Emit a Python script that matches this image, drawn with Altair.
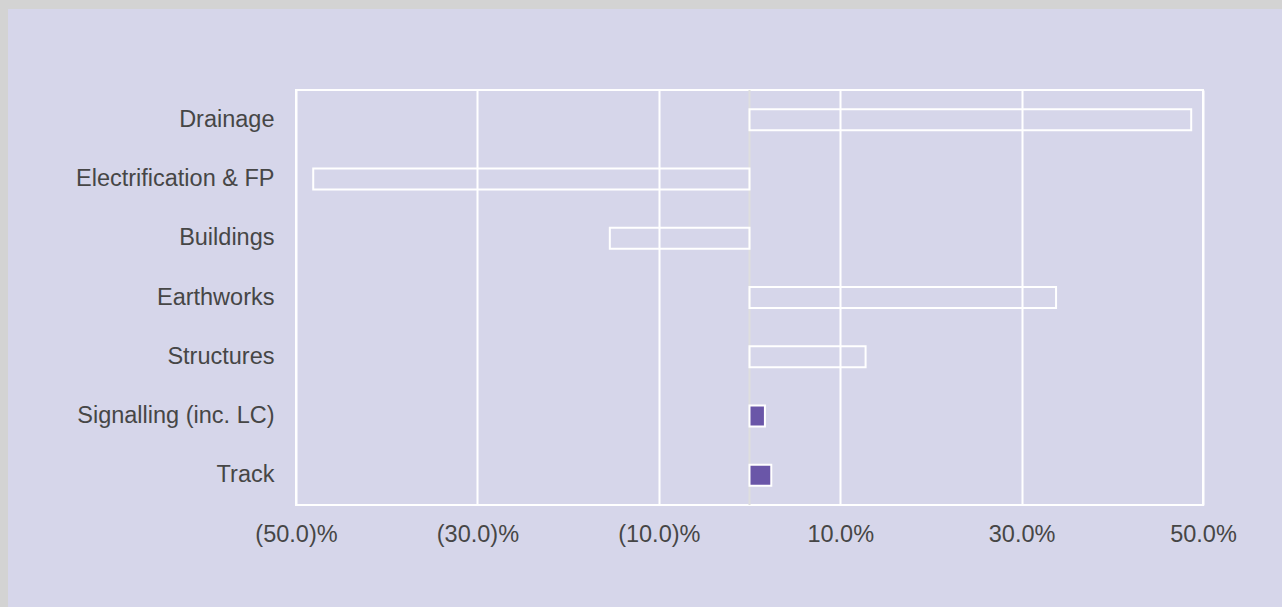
import altair as alt
import pandas as pd

categories = ["Drainage", "Electrification & FP", "Buildings", "Earthworks",
              "Structures", "Signalling (inc. LC)", "Track"]
variance_pct = [48.7, -48.1, -15.4, 33.8, 12.8, 1.7, 2.4]
filled_categories = ["Signalling (inc. LC)", "Track"]
tick_values = [-50, -30, -10, 10, 30, 50]

df = pd.DataFrame({"category": categories, "value": variance_pct})

LAVENDER = "#d6d6ea"
GRAY = "#d3d3d3"
PURPLE = "#6a56a8"
TEXT = "#464646"
FONT = "Liberation Sans"

strip_top = alt.Chart(alt.Data(values=[{}])).mark_rect(color=GRAY, clip=False).encode(
    x=alt.value(-296), x2=alt.value(986), y=alt.value(-90), y2=alt.value(-81)
)
strip_left = alt.Chart(alt.Data(values=[{}])).mark_rect(color=GRAY, clip=False).encode(
    x=alt.value(-296), x2=alt.value(-288), y=alt.value(-90), y2=alt.value(517)
)

zero = alt.Chart(alt.Data(values=[{"z": 0}])).mark_rule(color="#dedede", strokeWidth=2).encode(
    x=alt.X("z:Q", scale=alt.Scale(domain=[-50, 50], nice=False))
)

test = " || ".join(f"datum.category == '{c}'" for c in filled_categories)

bars = alt.Chart(df).mark_bar(size=21, stroke="white", strokeWidth=2).encode(
    y=alt.Y("category:N", sort=categories, title=None,
            axis=alt.Axis(ticks=False, domain=False, grid=False, labelPadding=22,
                          labelFontSize=23.5, labelColor=TEXT, labelFont=FONT, labelLimit=400)),
    x=alt.X("value:Q", title=None,
            scale=alt.Scale(domain=[-50, 50], nice=False, zero=True),
            axis=alt.Axis(values=tick_values, grid=True, gridColor="white", gridWidth=2,
                          gridOpacity=1, domain=False, ticks=False, labelPadding=17,
                          labelFlush=False, labelOverlap=False,
                          labelFontSize=23.5, labelColor=TEXT, labelFont=FONT,
                          labelExpr="datum.value < 0 ? '(' + format(-datum.value, '.1f') + ')%' : format(datum.value, '.1f') + '%'")),
    fill=alt.condition(test, alt.value(PURPLE), alt.value("transparent")),
)

chart = alt.layer(strip_top, strip_left, zero, bars).properties(
    width=907, height=415,
    padding={"left": 296, "top": 90, "right": 79, "bottom": 102},
    autosize=alt.AutoSizeParams(type="none"),
    background=LAVENDER,
).configure_view(stroke="white", strokeWidth=2)

chart.save("out.html", embed_options={"renderer": "svg", "actions": False})
